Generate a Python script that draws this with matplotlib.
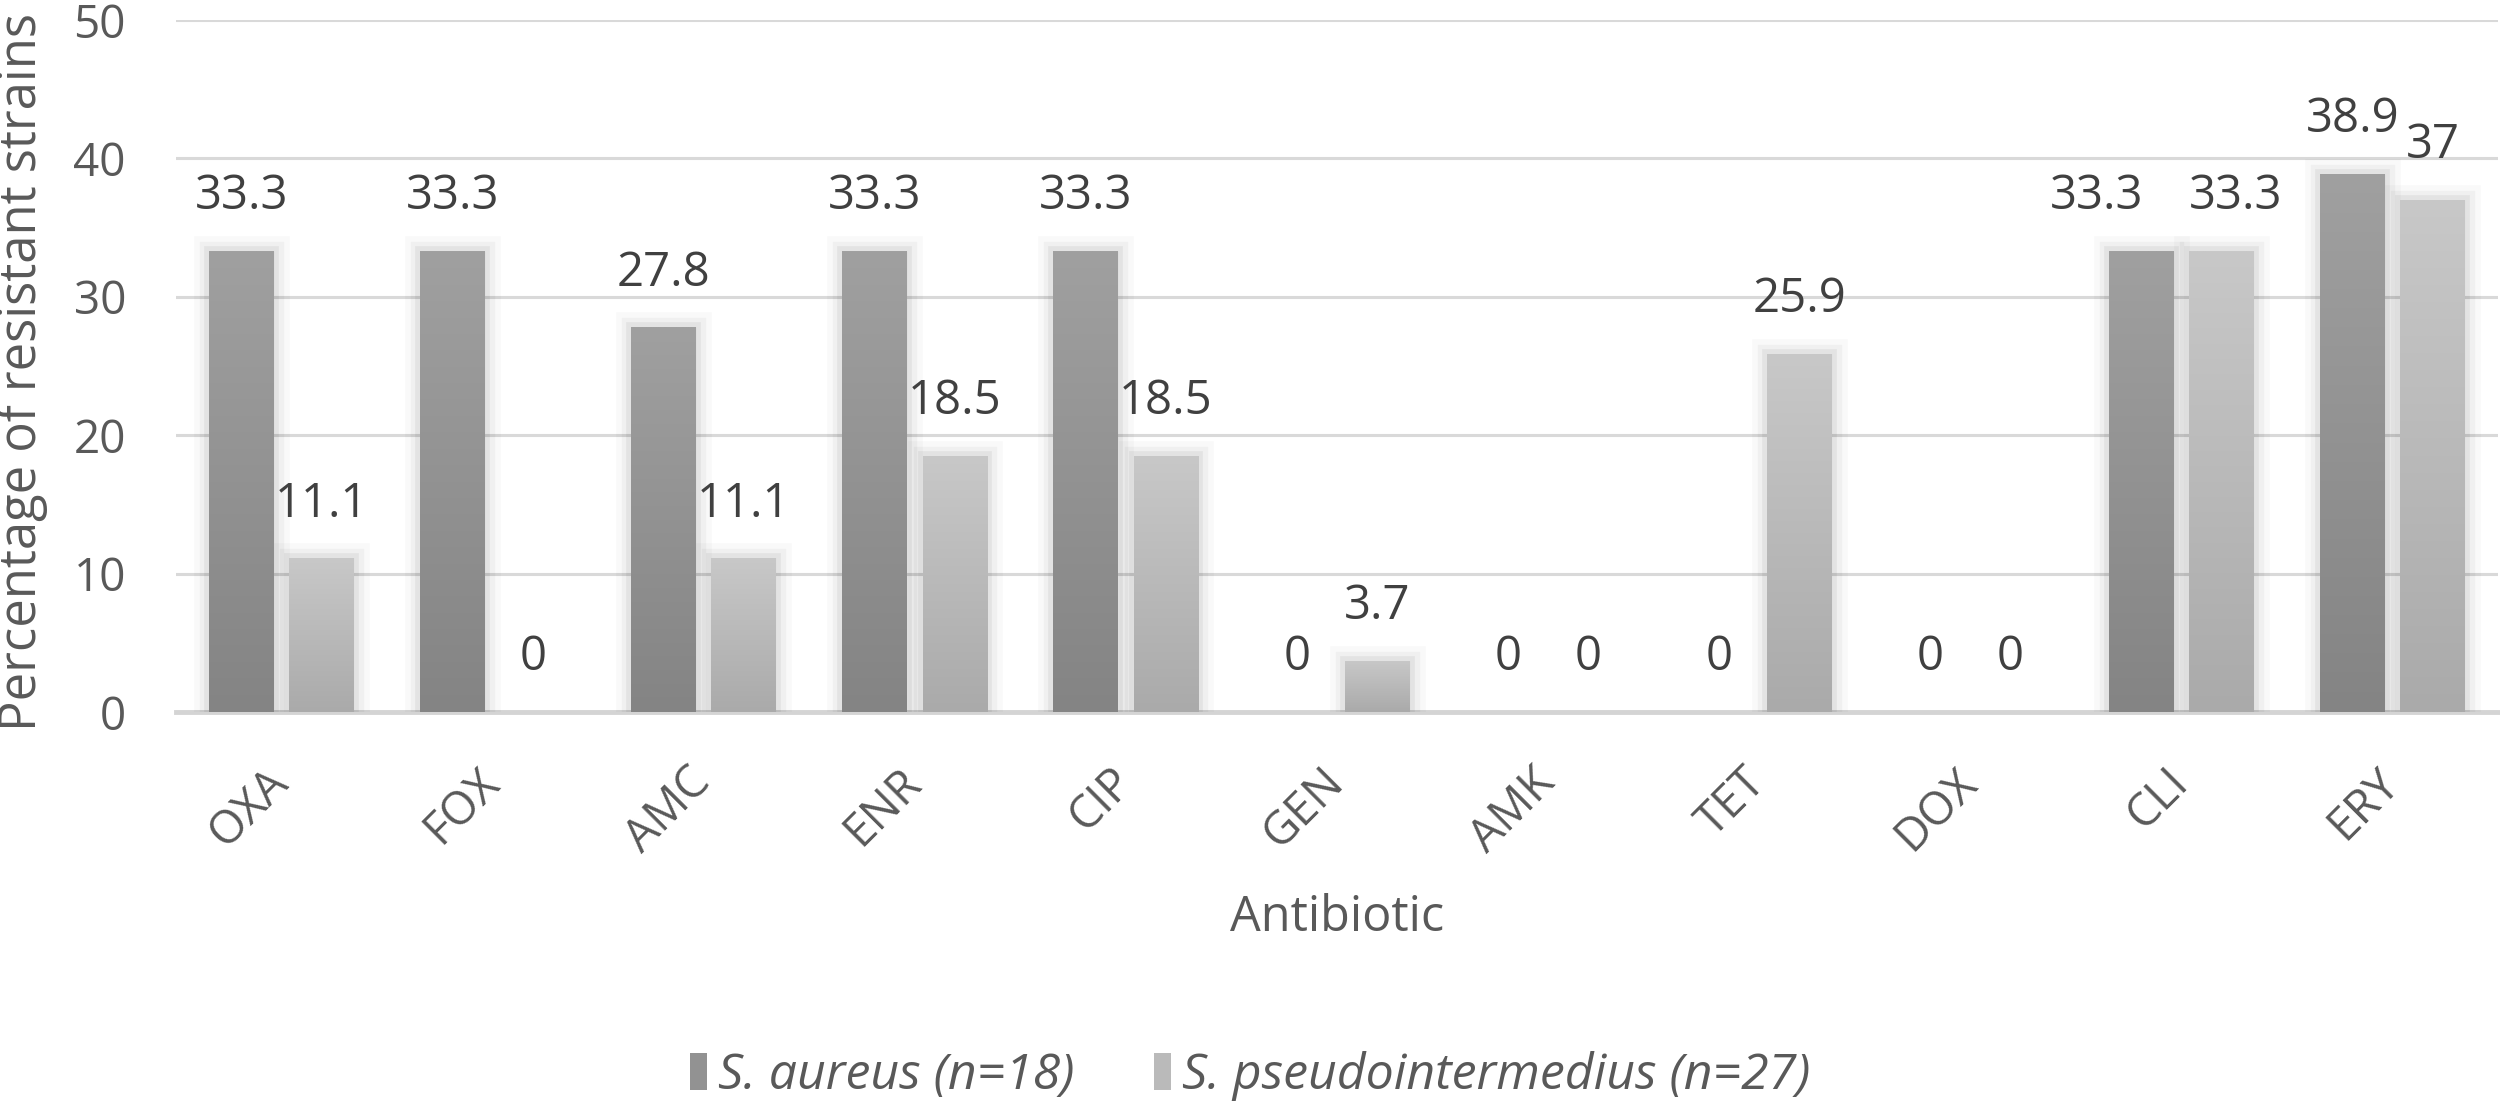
import numpy as np
import matplotlib
matplotlib.use("Agg")
from matplotlib import pyplot as plt
from matplotlib.colors import LinearSegmentedColormap
from matplotlib.patches import Patch
import matplotlib.patheffects as pe

plt.rcParams['font.family'] = ['Open Sans', 'DejaVu Sans']

antibiotics = ["OXA", "FOX", "AMC", "ENR", "CIP", "GEN", "AMK", "TET", "DOX", "CLI", "ERY"]
s_aureus = [33.3, 33.3, 27.8, 33.3, 33.3, 0, 0, 0, 0, 33.3, 38.9]
s_pseud = [11.1, 0, 11.1, 18.5, 18.5, 3.7, 0, 25.9, 0, 33.3, 37]
series_names = ["S. aureus (n=18)", "S. pseudointermedius (n=27)"]

W, H = 2500, 1102
txt_col = '#595959'
lab_col = '#404040'

# bottom -> top gradient colours for each series
grads = [('#848484', '#a0a0a0'), ('#aaaaaa', '#c8c8c8')]
# labels that were pulled sideways in the original (series, category): points
nudge = {(0, 9): -32, (1, 9): 10}

fig = plt.figure(figsize=(W / 100, H / 100), dpi=100)
ax = fig.add_axes([176 / W, (H - 712) / H, (2498 - 176) / W, (712 - 20) / H])

x = np.arange(len(antibiotics))
width = 0.307
offs = [-0.19, 0.19]
grad_img = np.linspace(0, 1, 256).reshape(-1, 1)

for k, vals in enumerate([s_aureus, s_pseud]):
    c0, c1 = grads[k]
    cmap = LinearSegmentedColormap.from_list(f"g{k}", [c0, c1])
    bars = ax.bar(x + offs[k], vals, width, color=c1, zorder=3, linewidth=0)
    for i, (b, v) in enumerate(zip(bars, vals)):
        if v > 0:
            # soft shadow round the bar
            b.set_path_effects([pe.Stroke(linewidth=22, foreground='k', alpha=0.025),
                                pe.Stroke(linewidth=14, foreground='k', alpha=0.035),
                                pe.Stroke(linewidth=7, foreground='k', alpha=0.05),
                                pe.Normal()])
            im = ax.imshow(grad_img, extent=[b.get_x(), b.get_x() + b.get_width(), 0, v],
                           origin='lower', aspect='auto', cmap=cmap, zorder=4)
            im.set_clip_path(b)
        ax.annotate(f"{v:g}", (b.get_x() + b.get_width() / 2, v),
                    xytext=(nudge.get((k, i), 0), 30),
                    textcoords='offset points', ha='center', va='baseline',
                    fontsize=34, color=lab_col, zorder=5)

ax.set_xlim(-0.5, len(antibiotics) - 0.5)
ax.set_ylim(0, 50)
ax.set_yticks(range(0, 51, 10))
ax.set_xticks(x)
ax.set_xticklabels(antibiotics, rotation=45, ha='right', va='center', rotation_mode='anchor')
ax.tick_params(axis='y', length=0, pad=36, labelsize=33, labelcolor=txt_col)
ax.tick_params(axis='x', length=0, pad=46, labelsize=33, labelcolor=txt_col)
ax.yaxis.grid(True, color='#d9d9d9', linewidth=2.2)
ax.set_axisbelow(True)
for s in ['top', 'right', 'left']:
    ax.spines[s].set_visible(False)
ax.spines['bottom'].set_color('#d4d4d4')
ax.spines['bottom'].set_linewidth(3.5)

fig.text(22 / W, 1 - 372 / H, "Percentage of resistant strains", rotation=90,
         ha='center', va='center', fontsize=36.5, color=txt_col)
fig.text(1337 / W, 1 - 918 / H, "Antibiotic", ha='center', va='center',
         fontsize=35, color=txt_col)

handles = [Patch(facecolor='#929292'), Patch(facecolor='#bababa')]
fig.legend(handles, series_names, loc='center', bbox_to_anchor=(1250 / W, 26 / H),
           ncol=2, frameon=False, handlelength=0.33, handleheight=0.75,
           handletextpad=0.22, columnspacing=1.6,
           prop={'size': 36, 'style': 'italic'}, labelcolor=txt_col)

fig.savefig("out.png", dpi=100)
